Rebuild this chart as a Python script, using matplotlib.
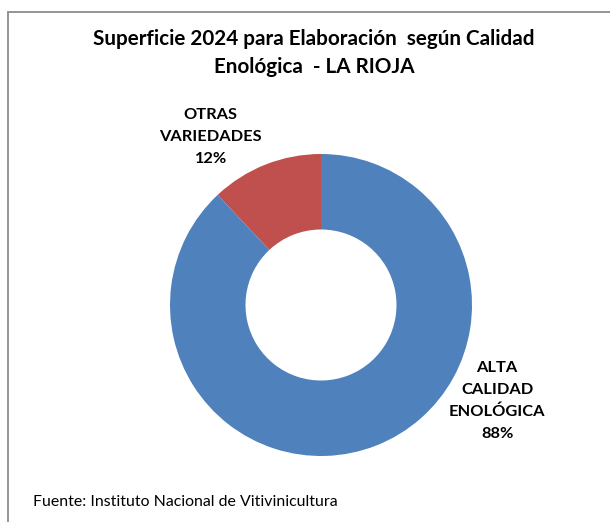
import matplotlib
matplotlib.use("Agg")
import matplotlib.pyplot as plt
from matplotlib.patches import Rectangle

categories = ["OTRAS\nVARIEDADES", "ALTA\nCALIDAD\nENOLÓGICA"]
values = [12, 88]
colors = ["#C0504D", "#4F81BD"]
title = "Superficie 2024 para Elaboración  según Calidad\nEnológica  - LA RIOJA"
source = "Fuente: Instituto Nacional de Vitivinicultura"

W, H = 610, 522
fig = plt.figure(figsize=(W / 100, H / 100), dpi=100)
fig.patch.set_facecolor("white")

# frame (left and top edges visible)
fig.add_artist(Rectangle((8 / W, -0.1), 1.2, (H - 12) / H + 0.1, transform=fig.transFigure,
                         fill=False, edgecolor="#8c8c8c", linewidth=1.3))

cx, cy, r = 321, 305, 151
ax = fig.add_axes([(cx - r) / W, (H - cy - r) / H, 2 * r / W, 2 * r / H])
wedges, _ = ax.pie(values, colors=colors, startangle=90, counterclock=True,
                   radius=1, wedgeprops=dict(width=0.5, linewidth=0))
ax.set_xlim(-1, 1)
ax.set_ylim(-1, 1)
ax.set_aspect("equal")
ax.axis("off")

label_pos = [(-0.73, 1.11), (1.166, -0.636)]
for cat, v, (lx, ly) in zip(categories, values, label_pos):
    ax.text(lx, ly, f"{cat}\n{v}%", ha="center", va="center", fontsize=11.8,
            fontweight="bold", family="Lato", linespacing=1.72, clip_on=False)

fig.text(314 / W, 1 - 53 / H, title, ha="center", va="center", fontsize=14.9,
         fontweight="bold", family="Lato", linespacing=1.55)
fig.text(33 / W, 1 - 502 / H, source, ha="left", va="center", fontsize=11.45,
         family="Lato")

fig.savefig("out.png", dpi=100)
